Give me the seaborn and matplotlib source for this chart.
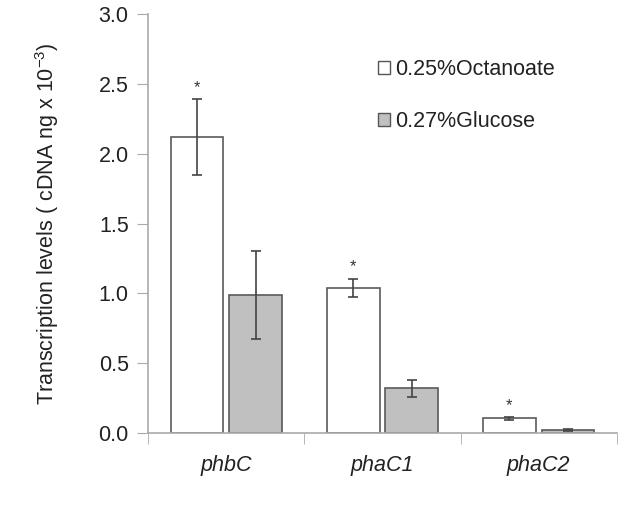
import pandas as pd
import numpy as np
import matplotlib
matplotlib.use('Agg')
import matplotlib.pyplot as plt
import seaborn as sns

genes = ['phbC', 'phaC1', 'phaC2']
conditions = ['0.25%Octanoate', '0.27%Glucose']
octanoate = [2.12, 1.04, 0.105]
glucose = [0.985, 0.32, 0.022]
octanoate_err = [0.27, 0.065, 0.01]
glucose_err = [0.315, 0.06, 0.008]

sns.set_style('white')
plt.rcParams['font.family'] = ['Liberation Sans', 'DejaVu Sans']
plt.rcParams['mathtext.default'] = 'regular'

df = pd.DataFrame({
    'gene': genes * 2,
    'cond': [conditions[0]] * 3 + [conditions[1]] * 3,
    'value': octanoate + glucose,
    'err': octanoate_err + glucose_err,
})

fig = plt.figure(figsize=(6.25, 5.26), dpi=100)
ax = fig.add_axes([0.237, 0.177, 0.75, 0.796])

sns.barplot(data=df, x='gene', y='value', hue='cond', order=genes, hue_order=conditions,
            palette=['white', '#c0c0c0'], width=0.75, gap=0.1, errorbar=None,
            edgecolor='#5a5a5a', linewidth=1.2, ax=ax)

# error bars + stars on octanoate
for i, cond in enumerate(conditions):
    cont = ax.containers[i]
    sub = df[df['cond'] == cond].set_index('gene').loc[genes]
    xs = [p.get_x() + p.get_width() / 2 for p in cont.patches]
    ax.errorbar(xs, sub['value'], yerr=sub['err'], fmt='none', ecolor='#444444',
                elinewidth=1.2, capsize=3.5, capthick=1.2)
    if i == 0:
        for x, v, e in zip(xs, sub['value'], sub['err']):
            ax.text(x, v + e + 0.03, '*', ha='center', va='bottom', fontsize=12, color='#333333')

ax.set_ylim(0, 3.0)
ax.set_xlim(-0.5, 2.5)
yt = np.arange(0, 3.01, 0.5)
ax.set_yticks(yt)
ax.set_yticklabels([f'{t:.1f}' for t in yt], fontsize=15.5, color='#222222')
ax.set_xticks(range(3))
ax.set_xticklabels(genes, fontsize=15.5, style='italic', color='#222222')
ax.set_xticks([-0.5, 0.5, 1.5, 2.5], minor=True)
ax.tick_params(axis='x', which='major', length=0, pad=16)
ax.tick_params(axis='x', which='minor', length=8, color='#aaaaaa', direction='out', bottom=True)
ax.tick_params(axis='y', length=8, color='#aaaaaa', direction='out', left=True, pad=6)
ax.set_xlabel('')
ax.set_ylabel('Transcription levels ( cDNA ng x 10$^{-3}$)', fontsize=15.5, color='#222222', labelpad=27)

for s in ['top', 'right']:
    ax.spines[s].set_visible(False)
for s in ['left', 'bottom']:
    ax.spines[s].set_color('#aaaaaa')
    ax.spines[s].set_linewidth(1.2)

leg = ax.legend(loc='upper left', bbox_to_anchor=(0.449, 0.94), frameon=False, fontsize=15.5,
                handlelength=0.55, handleheight=0.55, handletextpad=0.25, labelspacing=1.45)
for h in leg.legend_handles:
    h.set_edgecolor('#555555')
    h.set_linewidth(1.0)
for t in leg.get_texts():
    t.set_color('#222222')

fig.savefig('out.png', dpi=100, facecolor='white')
